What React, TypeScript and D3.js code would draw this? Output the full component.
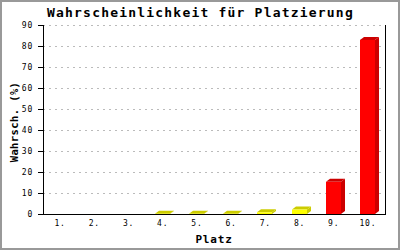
import React from "react";
import * as d3 from "d3";

const categories = ["1.", "2.", "3.", "4.", "5.", "6.", "7.", "8.", "9.", "10."];
const values = [0, 0, 0, 0.1, 0.1, 0.1, 0.8, 2.1, 15.3, 82.9];
const yTicks = [0, 10, 20, 30, 40, 50, 60, 70, 80, 90];
const title = "Wahrscheinlichkeit für Platzierung";
const yLabel = "Wahrsch. (%)";
const xLabel = "Platz";

const W = 400, H = 250;
const left = 43, right = 385, top = 25, bottom = 214;
const DX = 4, DY = 3, BW = 15;
const mono = "'DejaVu Sans Mono', monospace";

export default function App() {
  const x = d3.scaleBand<string>().domain(categories).range([left, right]).padding(0);
  const y = d3.scaleLinear().domain([0, 90]).range([bottom, top]);

  const bars = categories.map((c, i) => {
    const v = values[i];
    if (v <= 0) return null;
    const cx = (x(c) as number) + x.bandwidth() / 2;
    const x0 = Math.round(cx - 8);
    const x1 = x0 + BW;
    const yt = y(v);
    const red = v > 10;
    const front = red ? "#ff0000" : "#ffff00";
    const dark = red ? "#cc0000" : "#cccc00";
    const topPts = `${x0},${yt} ${x0 + DX},${yt - DY} ${x1 + DX},${yt - DY} ${x1},${yt}`;
    const sidePts = `${x1},${yt} ${x1 + DX},${yt - DY} ${x1 + DX},${bottom - DY} ${x1},${bottom}`;
    return (
      <g key={c}>
        <polygon points={sidePts} fill={dark} />
        <polygon points={topPts} fill={dark} />
        <rect x={x0} y={yt} width={BW} height={bottom - yt} fill={front} />
      </g>
    );
  });

  return (
    <svg width={W} height={H} style={{ position: "absolute", left: 0, top: 0 }}>
      <rect x={0} y={0} width={W} height={H} fill="#ffffff" />
      <rect x={1} y={1} width={W - 2} height={H - 2} fill="none" stroke="#999999" strokeWidth={2} />
      <text x={47} y={17} fontFamily={mono} fontWeight="bold" fontSize={13} letterSpacing={1.2} fill="#000">
        {title}
      </text>
      {yTicks.map((t) => (
        <g key={t}>
          {t > 0 && (
            <line x1={left} x2={right} y1={y(t) + 0.5} y2={y(t) + 0.5} stroke="#bbbbbb" strokeDasharray="2,4" />
          )}
          <line x1={38} x2={left} y1={y(t) + 0.5} y2={y(t) + 0.5} stroke="#000" />
          <text x={33} y={y(t) + 3} textAnchor="end" fontFamily={mono} fontSize={8} letterSpacing={0.8} fill="#000">
            {t}
          </text>
        </g>
      ))}
      {bars}
      <line x1={left + 0.5} x2={left + 0.5} y1={top} y2={bottom + 1} stroke="#000" />
      <line x1={right + 0.5} x2={right + 0.5} y1={top} y2={bottom + 1} stroke="#000" />
      <line x1={left} x2={right + 1} y1={bottom + 0.5} y2={bottom + 0.5} stroke="#000" />
      {categories.map((c) => (
        <text
          key={c}
          x={(x(c) as number) + x.bandwidth() / 2}
          y={226}
          textAnchor="middle"
          fontFamily={mono}
          fontSize={8}
          letterSpacing={0.8}
          fill="#000"
        >
          {c}
        </text>
      ))}
      <text x={214} y={243} textAnchor="middle" fontFamily={mono} fontWeight="bold" fontSize={11} letterSpacing={0.8} fill="#000">
        {xLabel}
      </text>
      <text
        transform={`translate(18,122) rotate(-90)`}
        textAnchor="middle"
        fontFamily={mono}
        fontWeight="bold"
        fontSize={10.5}
        letterSpacing={0.4}
        fill="#000"
      >
        {yLabel}
      </text>
    </svg>
  );
}
